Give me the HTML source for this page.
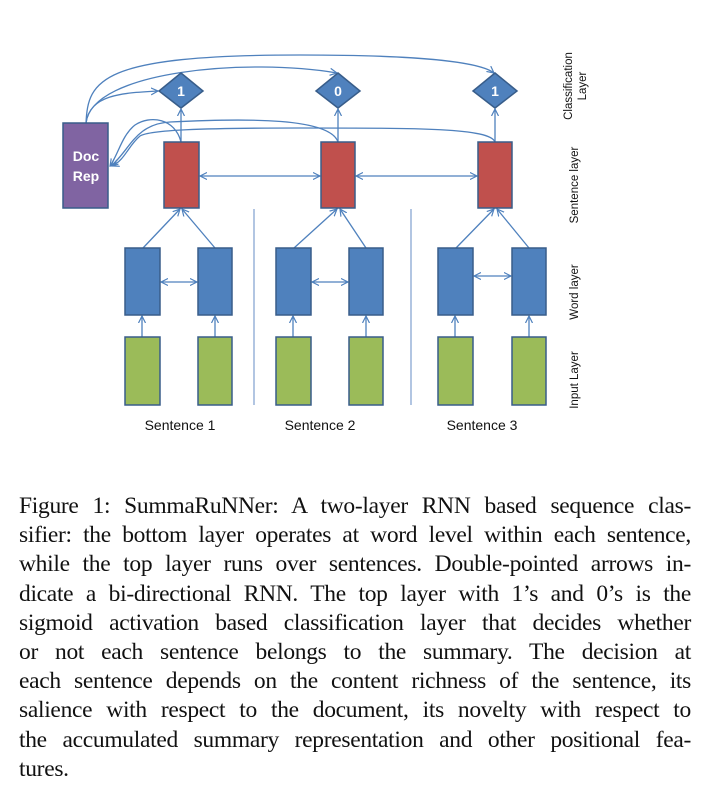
<!DOCTYPE html>
<html><head><meta charset="utf-8"><style>
body{margin:0;background:#fff;width:712px;height:802px;overflow:hidden;position:relative}
.cap{position:absolute;left:19px;top:492px;width:672px;font-family:"Liberation Serif",serif;font-size:23.5px;line-height:29.2px;color:#111;letter-spacing:-0.3px}
.cap div{text-align:justify;text-align-last:justify;white-space:nowrap;overflow:visible}
.cap div.l{text-align-last:left}
</style></head><body>
<svg width="712" height="480" style="position:absolute;left:0;top:0" font-family="Liberation Sans, sans-serif">
<defs><marker id="a" markerWidth="8" markerHeight="8" refX="7" refY="4" orient="auto-start-reverse" markerUnits="userSpaceOnUse"><path d="M0,0.5 L7,4 L0,7.5" fill="none" stroke="#4f81bd" stroke-width="1.2"/></marker></defs>
<g stroke="#4f81bd" stroke-width="1.3" fill="none">
<path d="M86,123 C90,95 120,93 158,91" marker-end="url(#a)"/>
<path d="M86,123 C92,70 250,58 337,73" marker-end="url(#a)"/>
<path d="M86,123 C88,80 100,55 300,55 C420,55 480,62 494,73" marker-end="url(#a)"/>
<path d="M181,142 C175,118 150,115 135,125 C122,135 118,155 110,166" marker-end="url(#a)"/>
<path d="M338,142 C330,118 250,118 170,122 C135,124 130,150 111,166" marker-end="url(#a)"/>
<path d="M495,142 C490,128 420,128 300,128 C200,128 150,130 140,136 C128,146 125,160 112,166" marker-end="url(#a)"/>
<path d="M181,142 V109" marker-end="url(#a)"/><path d="M338,142 V109" marker-end="url(#a)"/><path d="M495,142 V109" marker-end="url(#a)"/>
<path d="M200,176 H320" marker-start="url(#a)" marker-end="url(#a)"/>
<path d="M356,176 H477" marker-start="url(#a)" marker-end="url(#a)"/>
<path d="M143,248 L180,209" marker-end="url(#a)"/><path d="M215,248 L182,209" marker-end="url(#a)"/>
<path d="M294,248 L337,209" marker-end="url(#a)"/><path d="M366,248 L340,209" marker-end="url(#a)"/>
<path d="M456,248 L494,209" marker-end="url(#a)"/><path d="M529,248 L497,209" marker-end="url(#a)"/>
<path d="M161,282 H197" marker-start="url(#a)" marker-end="url(#a)"/>
<path d="M312,282 H348" marker-start="url(#a)" marker-end="url(#a)"/>
<path d="M474,276 H511" marker-start="url(#a)" marker-end="url(#a)"/>
<path d="M142,337 V316" marker-end="url(#a)"/><path d="M215,337 V316" marker-end="url(#a)"/>
<path d="M293,337 V316" marker-end="url(#a)"/><path d="M366,337 V316" marker-end="url(#a)"/>
<path d="M455,337 V316" marker-end="url(#a)"/><path d="M529,337 V316" marker-end="url(#a)"/>
</g>
<g stroke="#7f9fcf" stroke-width="1.2"><line x1="254" y1="209" x2="254" y2="405"/><line x1="411" y1="209" x2="411" y2="405"/></g>
<g stroke="#385d8a" stroke-width="1.5">
<rect x="63" y="123" width="45" height="85" fill="#8064a2"/>
<rect x="164" y="142" width="35" height="66" fill="#c0504d"/>
<rect x="321" y="142" width="34" height="66" fill="#c0504d"/>
<rect x="478" y="142" width="34" height="66" fill="#c0504d"/>
<g fill="#4f81bd">
<path d="M181,73 L203,91 L181,108 L159,91Z"/><path d="M338,73 L360,91 L338,108 L316,91Z"/><path d="M495,73 L517,91 L495,108 L473,91Z"/>
<rect x="125" y="248" width="35" height="67"/><rect x="198" y="248" width="34" height="67"/>
<rect x="276" y="248" width="35" height="67"/><rect x="349" y="248" width="34" height="67"/>
<rect x="438" y="248" width="35" height="67"/><rect x="512" y="248" width="34" height="67"/>
</g>
<g fill="#9bbb59">
<rect x="125" y="337" width="35" height="68"/><rect x="198" y="337" width="34" height="68"/>
<rect x="276" y="337" width="35" height="68"/><rect x="349" y="337" width="34" height="68"/>
<rect x="438" y="337" width="35" height="68"/><rect x="512" y="337" width="34" height="68"/>
</g></g>
<g fill="#fff" font-weight="bold" font-size="14" text-anchor="middle">
<text x="181" y="96">1</text><text x="338" y="96">0</text><text x="495" y="96">1</text>
<text x="86" y="161">Doc</text><text x="86" y="181">Rep</text>
</g>
<g font-size="14" text-anchor="middle" fill="#111">
<text x="180" y="430">Sentence 1</text><text x="320" y="430">Sentence 2</text><text x="482" y="430">Sentence 3</text>
</g>
<g font-size="11.5" text-anchor="middle" fill="#111">
<text transform="translate(572,86) rotate(-90)">Classification</text>
<text transform="translate(586,86) rotate(-90)">Layer</text>
<text transform="translate(578,185) rotate(-90)">Sentence layer</text>
<text transform="translate(578,292) rotate(-90)">Word layer</text>
<text transform="translate(578,380) rotate(-90)">Input Layer</text>
</g>
</svg>
<div class="cap">
<div>Figure 1: SummaRuNNer: A two-layer RNN based sequence clas-</div>
<div>sifier: the bottom layer operates at word level within each sentence,</div>
<div>while the top layer runs over sentences. Double-pointed arrows in-</div>
<div>dicate a bi-directional RNN. The top layer with 1’s and 0’s is the</div>
<div>sigmoid activation based classification layer that decides whether</div>
<div>or not each sentence belongs to the summary. The decision at</div>
<div>each sentence depends on the content richness of the sentence, its</div>
<div>salience with respect to the document, its novelty with respect to</div>
<div>the accumulated summary representation and other positional fea-</div>
<div class="l">tures.</div>
</div>
</body></html>
